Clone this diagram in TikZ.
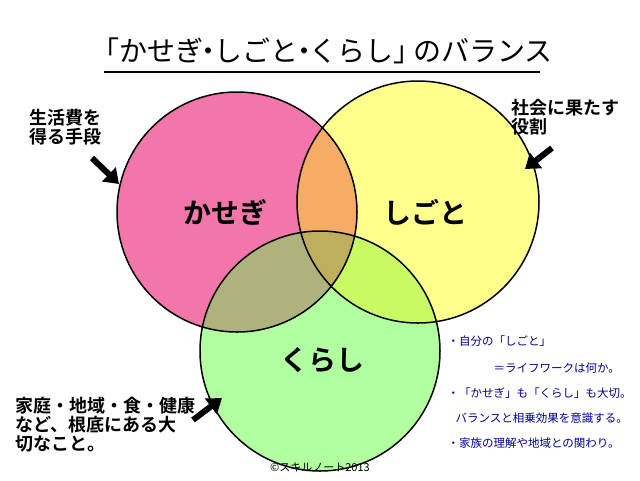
\documentclass[tikz,border=0pt]{standalone}
\usepackage{fontspec}
\setmainfont{Noto Sans CJK JP}
\newfontfamily\jpb{Noto Sans CJK JP}[BoldFont={* Bold}]
\usetikzlibrary{arrows.meta}
\definecolor{cP}{RGB}{242,118,170}
\definecolor{cY}{RGB}{255,255,140}
\definecolor{cG}{RGB}{178,255,160}
\definecolor{cPY}{RGB}{245,172,100}
\definecolor{cPG}{RGB}{176,178,125}
\definecolor{cYG}{RGB}{200,250,100}
\definecolor{cPYG}{RGB}{190,175,95}
\begin{document}
\begin{tikzpicture}[x=1pt,y=-1pt,
  big/.style={font=\fontsize{28}{30}\selectfont\bfseries},
  side/.style={font=\fontsize{18}{21}\selectfont\bfseries,align=left,anchor=north west},
  note/.style={font=\fontsize{11.5}{14}\selectfont,text=blue!60!black,anchor=west},
  barrow/.style={line width=6pt,-{Triangle[length=14pt,width=19pt]}}]
\useasboundingbox (0,0) rectangle (640,480);
\fill[white] (0,0) rectangle (640,480);
\def\PC{(237,212) circle (120)}
\def\YC{(418,202) circle (121)}
\def\GC{(320,351) circle (120)}
\fill[cP] \PC;
\fill[cY] \YC;
\fill[cG] \GC;
\begin{scope}\clip \PC; \fill[cPY] \YC; \end{scope}
\begin{scope}\clip \PC; \fill[cPG] \GC; \end{scope}
\begin{scope}\clip \YC; \fill[cYG] \GC; \end{scope}
\begin{scope}\clip \PC; \clip \YC; \fill[cPYG] \GC; \end{scope}
\draw[line width=1.5pt] \PC \YC \GC;
\node (title) at (322,51) {\fontsize{28}{30}\selectfont 「かせぎ\kern-0.3em・\kern-0.3emしごと\kern-0.3em・\kern-0.3emくらし」\kern-0.3emのバランス};
\draw[line width=1.2pt] (104,72) -- (540,72);
\node[big] (ka) at (225,212) {\jpb かせぎ};
\node[big] (shi) at (425,212) {\jpb しごと};
\node[big] (ku) at (322,360) {\jpb くらし};
\node[side] (l1) at (26,106) {\jpb 生活費を\\[-2pt]\jpb 得る手段};
\node[side] (l2) at (508,96) {\jpb 社会に果たす\\[-2pt]\jpb 役割};
\node[side] (l3) at (12,394) {\jpb 家庭・地域・食・健康\\[-2pt]\jpb など、根底にある大\\[-2pt]\jpb 切なこと。};
\coordinate (a1s) at (92,158); \coordinate (a1e) at (119,184);
\coordinate (a2s) at (552,148); \coordinate (a2e) at (525,169);
\coordinate (a3s) at (193,420); \coordinate (a3e) at (222,398);
\draw[barrow] (a1s) -- (a1e);
\draw[barrow] (a2s) -- (a2e);
\draw[barrow] (a3s) -- (a3e);
\node[note] (n1) at (444,341) {・自分の「しごと」};
\node[note] (n2) at (490,368) {＝ライフワークは何か。};
\node[note] (n3) at (444,393) {・「かせぎ」も「くらし」も大切。};
\node[note] (n4) at (452,418) {バランスと相乗効果を意識する。};
\node[note] (n5) at (444,443) {・家族の理解や地域との関わり。};
\node (c) at (320,467) {\fontsize{11}{12}\selectfont ©スキルノート2013};
\end{tikzpicture}
\end{document}
